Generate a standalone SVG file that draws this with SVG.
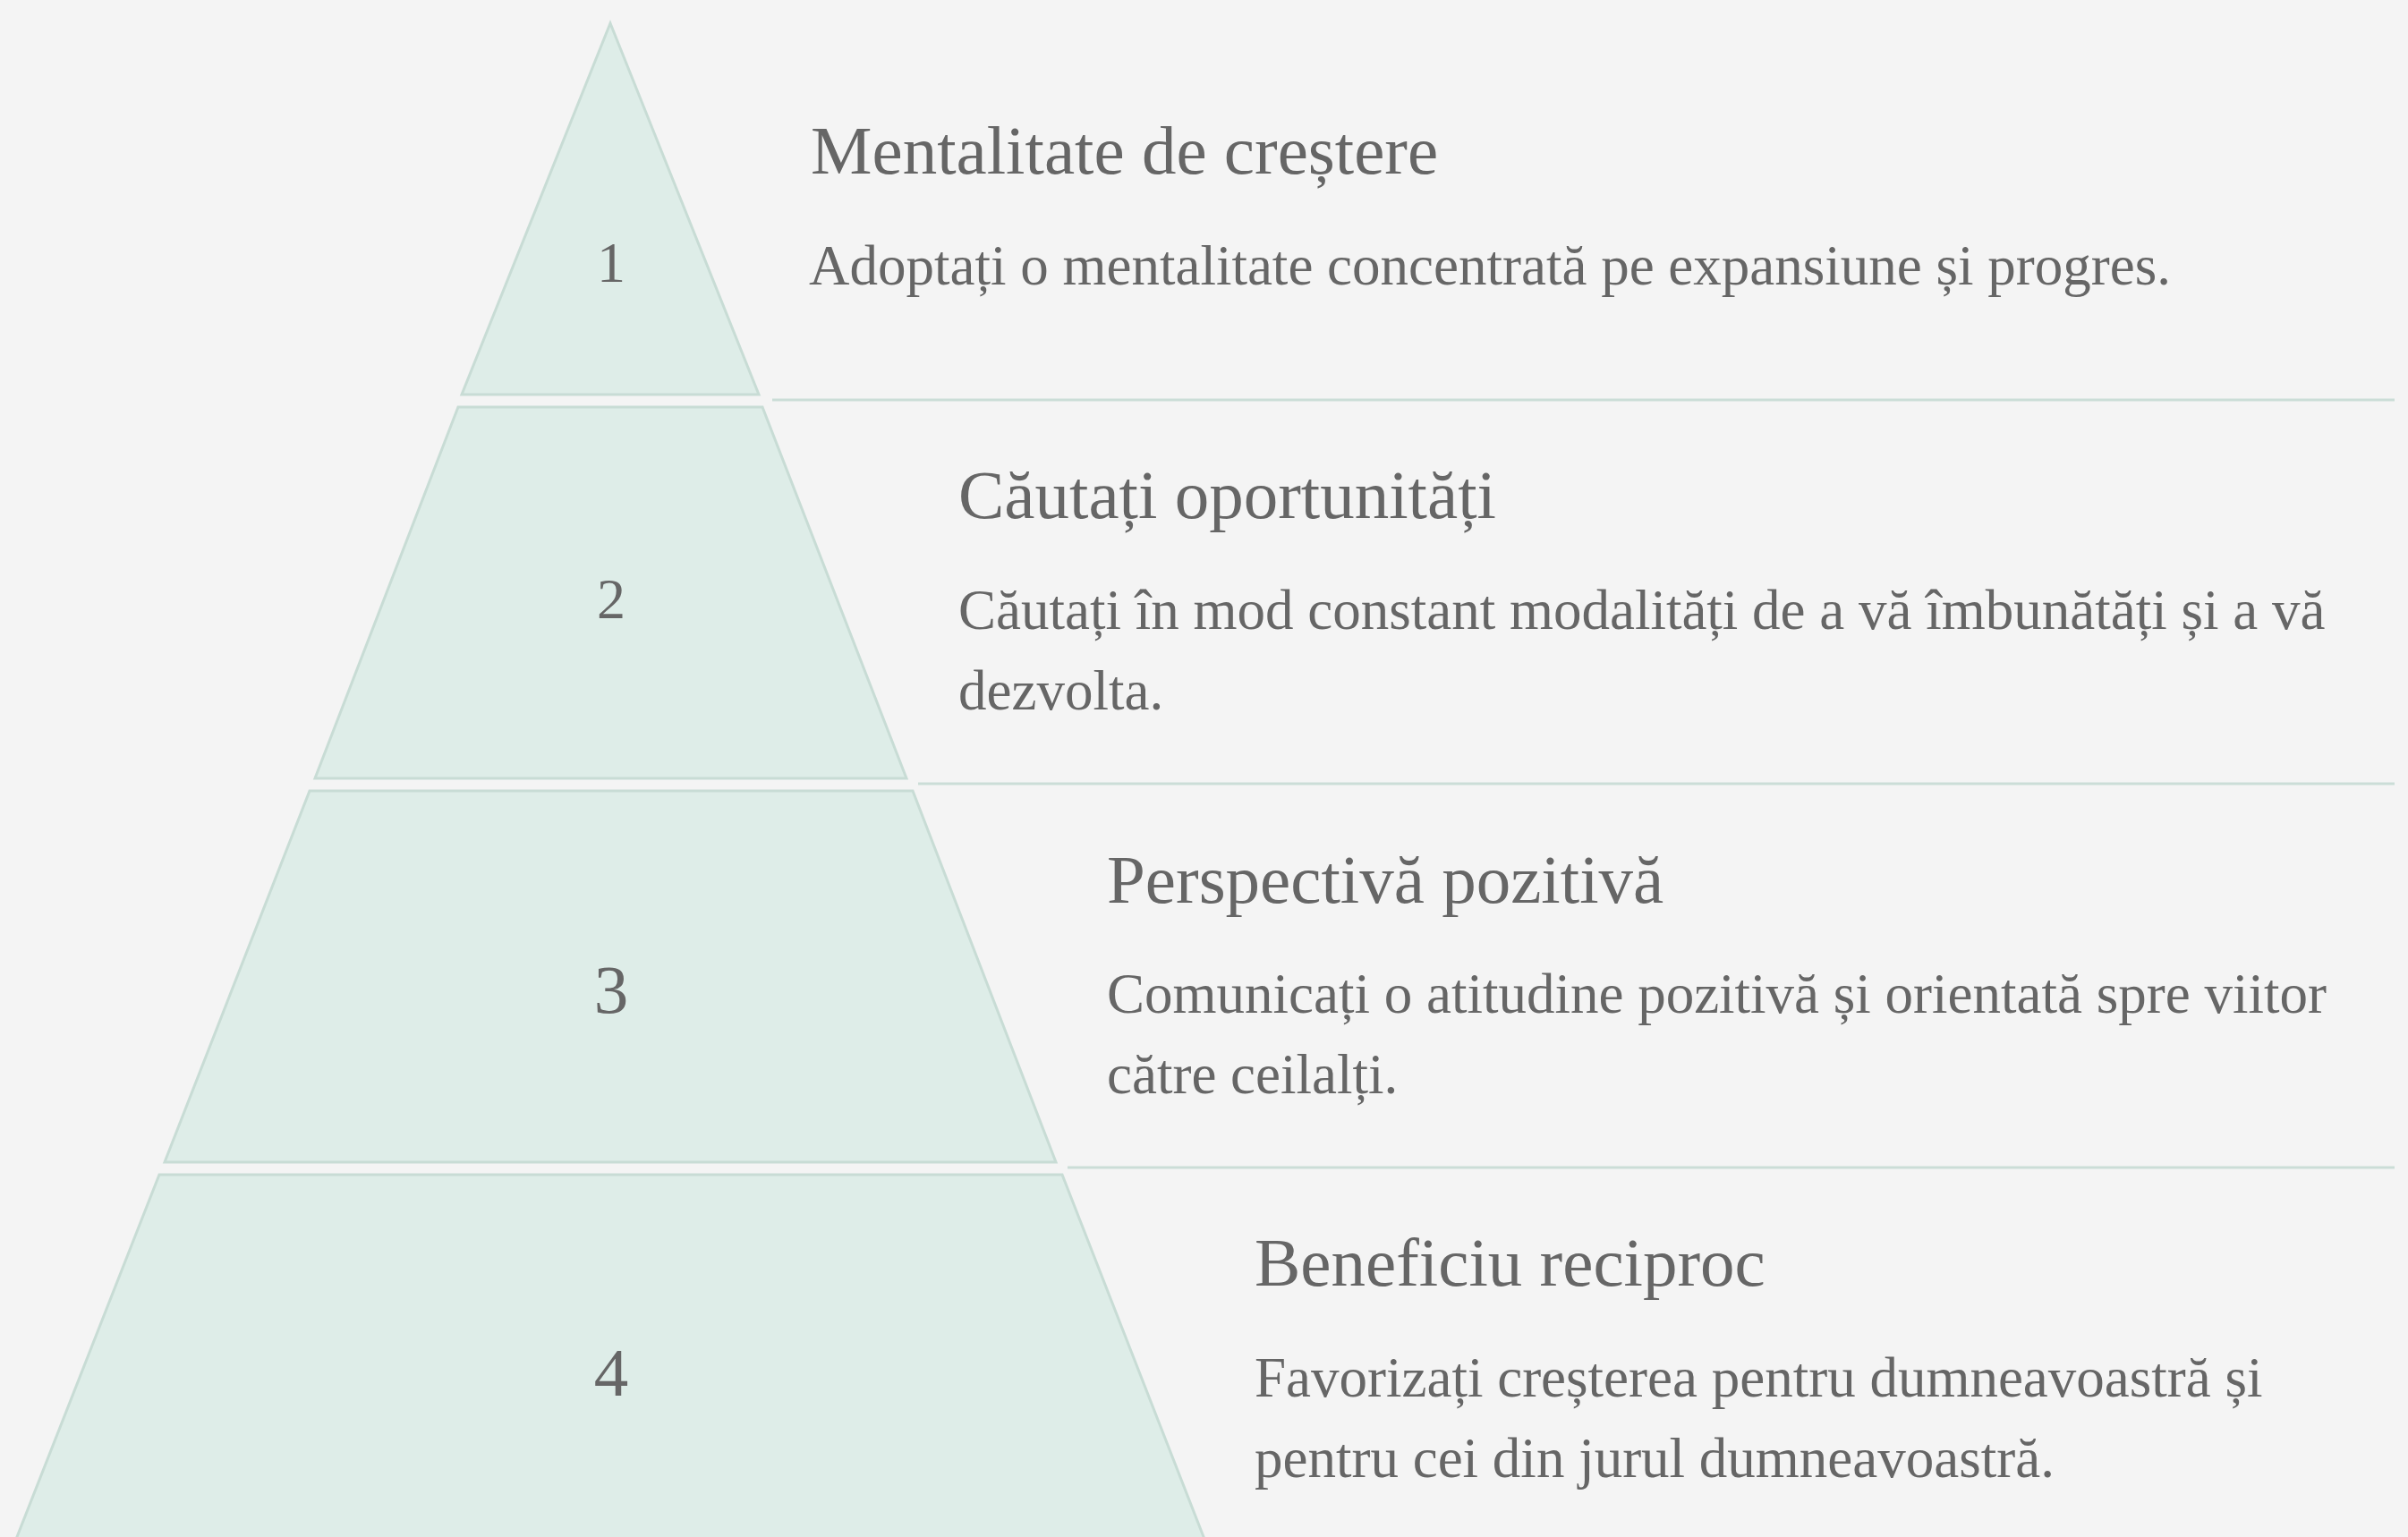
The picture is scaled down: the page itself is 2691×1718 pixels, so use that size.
<svg xmlns="http://www.w3.org/2000/svg" width="2691" height="1718" viewBox="0 0 2691 1718">
  <style>
    .tier { fill: #deede8; stroke: #c8dcd5; stroke-width: 3; stroke-linejoin: miter; }
    .num { font-family: "Liberation Serif", "DejaVu Serif", serif; fill: #666666; text-anchor: middle; }
    .head { font-family: "Liberation Serif", "DejaVu Serif", serif; font-size: 77px; fill: #666666; }
    .desc { font-family: "Liberation Serif", "DejaVu Serif", serif; font-size: 63px; fill: #666666; }
    .sep { stroke: #cbddd7; stroke-width: 3; fill: none; }
  </style>
  <rect x="0" y="0" width="2691" height="1718" fill="#f4f4f4"/>

  <g id="connectors">
    <line class="sep" x1="863" y1="447" x2="2676" y2="447"/>
    <line class="sep" x1="1026" y1="876" x2="2676" y2="876"/>
    <line class="sep" x1="1193" y1="1305" x2="2676" y2="1305"/>
  </g>

  <g id="tier1">
    <polygon class="tier" points="682,26 848,441 516,441"/>
    <text class="num" x="683" y="315" font-size="64">1</text>
    <text class="head" x="906" y="194">Mentalitate de creștere</text>
    <text class="desc" x="904" y="318">Adoptați o mentalitate concentrată pe expansiune și progres.</text>
  </g>

  <g id="tier2">
    <polygon class="tier" points="512,455 852,455 1013,870 352,870"/>
    <text class="num" x="683" y="691" font-size="64">2</text>
    <text class="head" x="1071" y="579">Căutați oportunități</text>
    <text class="desc" x="1071" y="703">Căutați în mod constant modalități de a vă îmbunătăți și a vă</text>
    <text class="desc" x="1071" y="793">dezvolta.</text>
  </g>

  <g id="tier3">
    <polygon class="tier" points="346,884 1020,884 1180,1299 184,1299"/>
    <text class="num" x="683" y="1132" font-size="77">3</text>
    <text class="head" x="1237" y="1009">Perspectivă pozitivă</text>
    <text class="desc" x="1237" y="1132">Comunicați o atitudine pozitivă și orientată spre viitor</text>
    <text class="desc" x="1237" y="1222">către ceilalți.</text>
  </g>

  <g id="tier4">
    <polygon class="tier" points="178,1313 1187,1313 1349,1728 15,1728"/>
    <text class="num" x="683" y="1560" font-size="77">4</text>
    <text class="head" x="1402" y="1437">Beneficiu reciproc</text>
    <text class="desc" x="1402" y="1561">Favorizați creșterea pentru dumneavoastră și</text>
    <text class="desc" x="1402" y="1651">pentru cei din jurul dumneavoastră.</text>
  </g>
</svg>
